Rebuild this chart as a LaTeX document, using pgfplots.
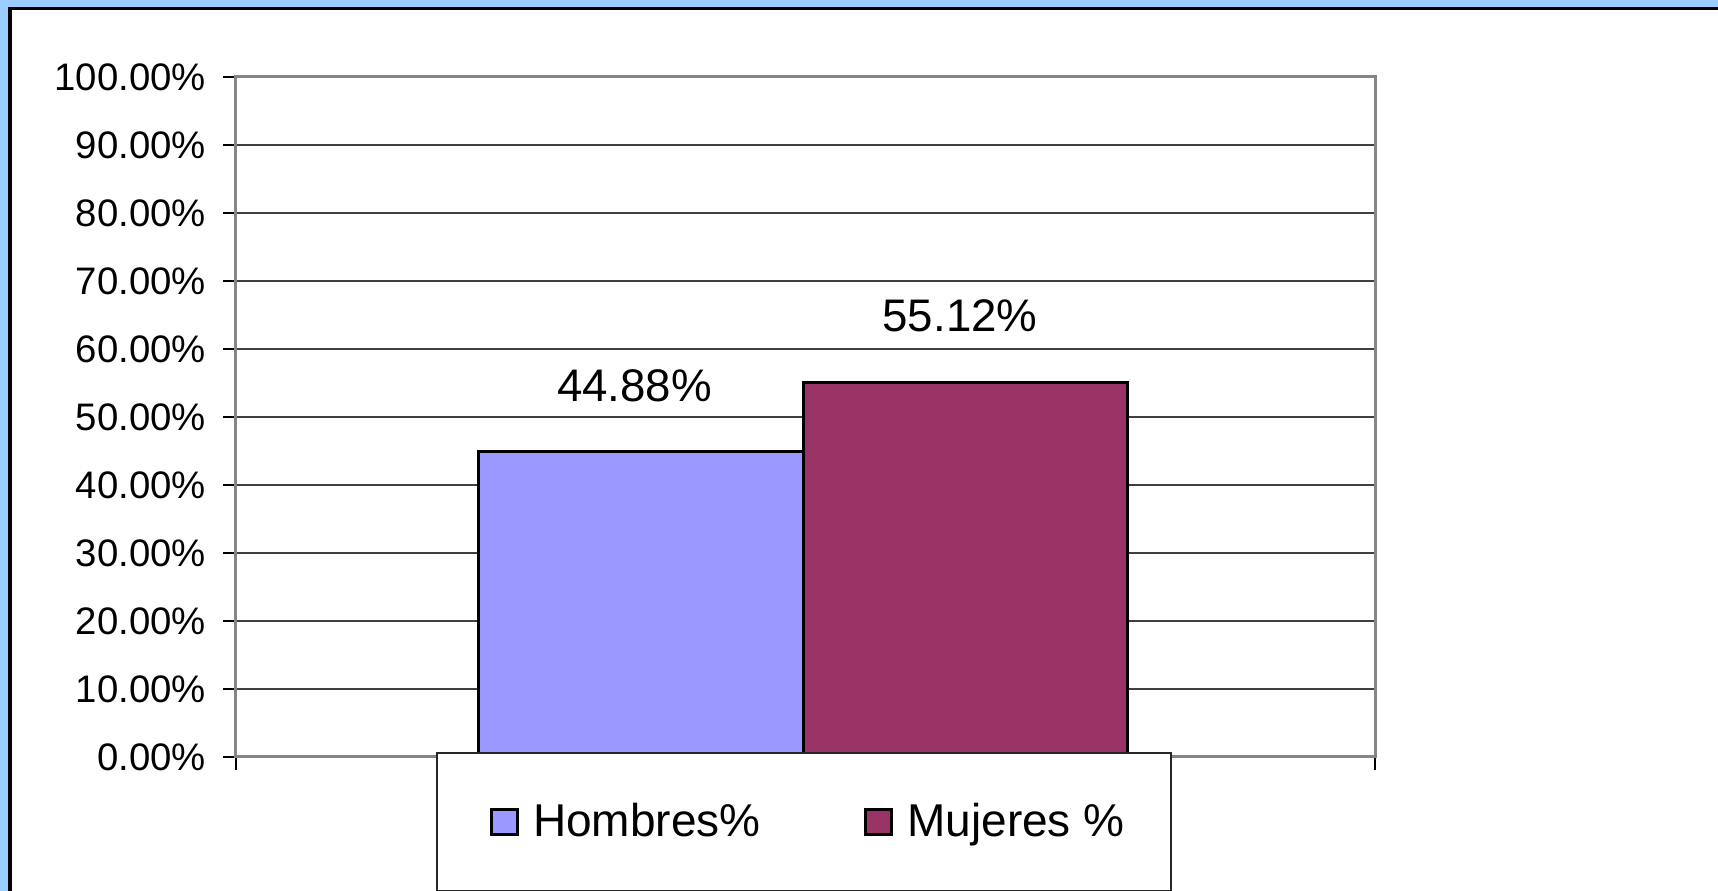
\documentclass[border=0pt]{standalone}
\usepackage{fontspec}
\setmainfont{Liberation Sans}
\usepackage{pgfplots}
\pgfplotsset{compat=1.18}
\definecolor{bgblue}{RGB}{153,204,255}
\definecolor{hombres}{RGB}{153,153,255}
\definecolor{mujeres}{RGB}{153,51,102}
\definecolor{axisgray}{RGB}{134,134,134}
\begin{document}
\begin{tikzpicture}
% picture in px: 1 px = 0.3pt, axis south west at (0,0)
\begin{scope}[x=0.3pt, y=0.3pt]
  \fill[bgblue] (-236,-134) rectangle (1482,757);
  \fill[black] (-228,-134) rectangle (1482,750);
  \fill[white] (-224,-134) rectangle (1482,747);
\end{scope}
\begin{axis}[
  at={(0,0)}, anchor=south west,
  scale only axis, width=341.7pt, height=204pt,
  xmin=-0.5, xmax=0.5, ymin=0, ymax=100,
  xtick={-0.5,0.5}, xticklabels={},
  ytick={0,10,...,100},
  yticklabel={\pgfmathprintnumber[fixed,fixed zerofill,precision=2]{\tick}\%},
  /pgf/number format/assume math mode=true,
  ticklabel style={font=\fontsize{11.5}{14}\selectfont},
  yticklabel style={xshift=-1.7pt},
  tick align=outside, xtick pos=bottom, ytick pos=left,
  major tick length=3.8pt,
  tick style={black, line width=0.4pt},
  axis line style={draw=axisgray, line width=0.9pt},
  ymajorgrids, major grid style={black!75, line width=0.45pt},
  bar width=0.285,
  nodes near coords={\pgfmathprintnumber[fixed,fixed zerofill,precision=2]{\pgfplotspointmeta}\%},
  nodes near coords style={font=\fontsize{13.7}{16}\selectfont, anchor=base,
    inner sep=0pt, yshift=15.2pt},
  legend columns=2,
  legend style={at={(0.1756,0.00735)}, anchor=north west, overlay,
    draw=black!85, line width=0.5pt, fill=white,
    font=\fontsize{13.8}{16}\selectfont,
    inner xsep=12pt, inner ysep=13pt,
    /tikz/every odd column/.append style={column sep=2.3pt},
    /tikz/every even column/.append style={column sep=25.1pt}},
  legend image code/.code={\path (0pt,0pt);
    \draw[#1, draw=black, line width=0.9pt]
    (3.9pt,-3.75pt) rectangle (11.7pt,3.75pt);},
]
\addplot[ybar, bar shift=-0.1445, fill=hombres, draw=black, line width=0.9pt,
  every node near coord/.append style={xshift=-51.3pt}]
  coordinates {(0,44.88)};
\addlegendentry{Hombres\%}
\addplot[ybar, bar shift=0.1405, fill=mujeres, draw=black, line width=0.9pt,
  every node near coord/.append style={xshift=46.35pt}]
  coordinates {(0,55.12)};
\addlegendentry{Mujeres \%}
\end{axis}
\end{tikzpicture}
\end{document}
